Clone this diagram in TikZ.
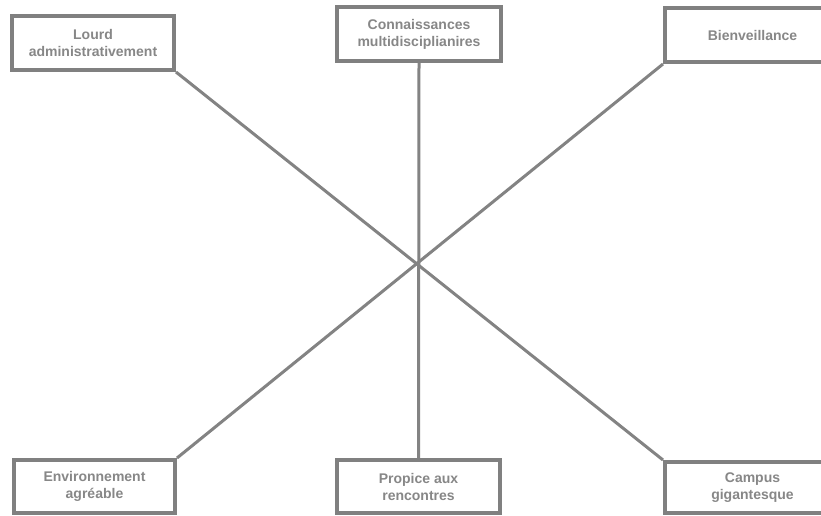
\documentclass[tikz,border=0pt]{standalone}
\usepackage{fontspec}
\setmainfont{Liberation Sans}
\definecolor{boxgray}{HTML}{808080}
\definecolor{textgray}{HTML}{878787}
\definecolor{linegray}{HTML}{838383}
\begin{document}
\begin{tikzpicture}[x=1pt,y=-1pt,
  idea/.style={draw=boxgray, line width=4pt, fill=white, rectangle, inner sep=0pt,
    minimum height=54pt, align=center, text=textgray,
    font=\fontsize{14}{17}\selectfont\bfseries},
  spoke/.style={draw=linegray, line width=3pt}]
\useasboundingbox (0,0) rectangle (821,516);
\clip (0,0) rectangle (821,516);
% six labelled boxes
\node[idea, minimum width=162pt] (lourd) at (93,43) {Lourd\\administrativement};
\node[idea, minimum width=164pt] (conn) at (419,34) {Connaissances\\multidisciplianires};
\node[idea, minimum width=175pt] (bien) at (752.5,35) {Bienveillance};
\node[idea, minimum width=161pt, minimum height=53pt] (env) at (94.5,486.5) {Environnement\\agréable};
\node[idea, minimum width=163pt, minimum height=53pt] (prop) at (418.5,486.5) {Propice aux\\rencontres};
\node[idea, minimum width=175pt, minimum height=51pt] (camp) at (752.5,487.5) {Campus\\gigantesque};
% three crossing connectors
\draw[spoke] (lourd.south east) -- (camp.north west);
\draw[spoke] (bien.south west) -- (env.north east);
\draw[spoke] (conn.south) -- (prop.north);
\end{tikzpicture}
\end{document}
